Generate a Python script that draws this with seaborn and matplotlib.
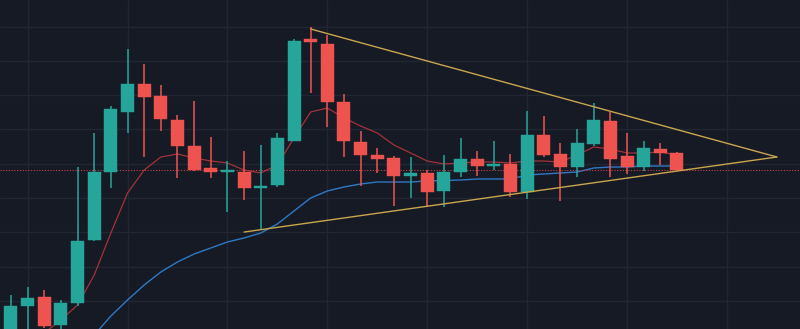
import numpy as np
import pandas as pd
import matplotlib
matplotlib.use("Agg")
import matplotlib.pyplot as plt
import seaborn as sns

# ---- data ----
opens = [0.5, 8.5, 11.16, 3.0, 9.4, 27.78, 47.6, 65.1, 73.27, 69.77,
         62.77, 55.19, 48.77, 47.61, 47.61, 42.94, 43.81, 56.65, 86.38, 84.93,
         68.02, 56.36, 52.56, 51.69, 46.44, 47.32, 42.07, 47.61, 51.39, 49.36,
         49.94, 41.78, 58.40, 52.85, 49.06, 55.77, 62.48, 52.27, 49.06, 54.31,
         53.14]
highs = [11.75, 14.08, 13.21, 10.29, 49.07, 58.98, 66.85, 83.47, 79.10, 72.97,
         64.23, 68.31, 57.81, 50.81, 53.73, 55.48, 58.98, 86.38, 89.88, 87.55,
         70.35, 59.56, 54.60, 52.27, 51.98, 48.19, 52.56, 57.52, 53.73, 56.65,
         52.85, 65.39, 63.93, 56.06, 60.14, 67.72, 65.10, 58.98, 56.65, 56.06,
         53.44]
lows = [-1.0, 1.0, 2.13, 1.8, 8.54, 27.5, 42.94, 58.98, 51.98, 59.56,
        45.86, 48.0, 45.86, 35.94, 39.44, 30.69, 43.23, 56.5, 70.64, 60.73,
        51.98, 43.52, 47.32, 37.69, 40.03, 37.40, 37.40, 46.15, 46.44, 48.19,
        40.32, 39.74, 51.98, 39.15, 46.15, 55.19, 46.15, 47.02, 47.90, 49.65,
        47.90]
closes = [8.54, 10.87, 2.71, 9.42, 27.49, 47.61, 65.98, 73.27, 69.47, 63.06,
          55.19, 48.19, 47.61, 47.90, 42.94, 43.52, 57.52, 85.80, 85.51, 68.02,
          56.65, 52.56, 51.39, 46.44, 47.32, 41.78, 47.61, 51.39, 49.36, 49.94,
          41.78, 58.40, 52.56, 49.06, 56.06, 62.77, 51.39, 49.06, 54.60, 53.14,
          48.19]
ma_fast = [-4.87, -1.95, 0.67, 4.46, 8.83, 17.58, 29.82, 41.49, 48.19, 51.98,
           52.86, 51.69, 50.81, 50.23, 48.19, 47.32, 49.65, 57.52, 65.10, 66.27,
           63.35, 61.02, 58.98, 55.48, 53.15, 50.81, 49.94, 50.23, 50.52, 50.52,
           50.23, 50.81, 50.81, 50.52, 52.56, 54.90, 54.31, 53.15, 53.15, 53.44,
           52.56]
ma_slow = [-18.86, -14.49, -10.12, -5.75, -1.95, 0.08, 5.62, 10.29, 14.66, 18.45,
           21.37, 23.70, 25.45, 27.20, 28.37, 29.82, 32.45, 36.24, 40.03, 42.07,
           43.23, 44.11, 44.69, 44.69, 44.69, 44.98, 45.13, 45.28, 45.57, 45.57,
           45.57, 46.73, 47.02, 47.32, 47.61, 48.77, 49.06, 49.06, 49.36, 49.36,
           49.36]
# triangle trend lines: (bar index, price)
upper_line_x = [18, 46]
upper_line_y = [89.3, 51.98]
lower_line_x = [14, 46]
lower_line_y = [30.1, 51.98]

# ---- style ----
BG = "#161a25"
GRID = "#222633"
UP = "#26a69a"
DOWN = "#ef5350"

sns.set_theme(style="dark", rc={"axes.facecolor": BG, "figure.facecolor": BG})

df = pd.DataFrame({"idx": np.arange(len(opens)), "open": opens, "high": highs,
                   "low": lows, "close": closes, "ma_fast": ma_fast, "ma_slow": ma_slow})
df["up"] = df["close"] >= df["open"]
df["color"] = np.where(df["up"], UP, DOWN)
df["bottom"] = df[["open", "close"]].min(axis=1)
df["height"] = (df["close"] - df["open"]).abs().clip(lower=0.55)

fig = plt.figure(figsize=(8.0, 3.29), dpi=100)
ax = fig.add_axes([0, 0, 1, 1])
ax.set_facecolor(BG)

# grid
for gx in range(1, 48, 6):
    ax.axvline(gx, color=GRID, lw=1.0, zorder=0)
for gy in range(10, 100, 10):
    ax.axhline(gy, color=GRID, lw=1.0, zorder=0)

# moving averages
sns.lineplot(data=df, x="idx", y="ma_slow", ax=ax, color="#2f78c4", lw=1.0, zorder=1)
sns.lineplot(data=df, x="idx", y="ma_fast", ax=ax, color="#a3323a", lw=0.9, zorder=1)

# wicks and bodies
ax.vlines(df["idx"], df["low"], df["high"], colors=df["color"], lw=1.1, zorder=2)
ax.bar(df["idx"], df["height"], bottom=df["bottom"], width=0.78,
       color=df["color"], edgecolor=df["color"], lw=0.3, zorder=3)

# last price dotted line
ax.axhline(closes[-1], color="#c0444a", lw=0.8, ls=(0, (1, 1.5)), zorder=1.5)

# triangle
sns.lineplot(x=upper_line_x, y=upper_line_y, ax=ax, color="#c9a64e", lw=1.0, zorder=4)
sns.lineplot(x=lower_line_x, y=lower_line_y, ax=ax, color="#c9a64e", lw=1.0, zorder=4)

ax.set_xlim(-0.66, 47.39)
ax.set_ylim(1.83, 97.755)
ax.set_xticks([])
ax.set_yticks([])
ax.set_xlabel("")
ax.set_ylabel("")
for s in ax.spines.values():
    s.set_visible(False)

fig.savefig("out.png", dpi=100, facecolor=BG)
